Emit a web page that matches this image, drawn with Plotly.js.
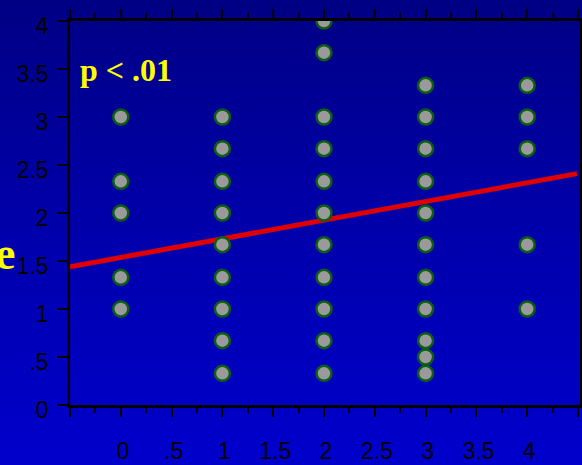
<!DOCTYPE html>
<html>
<head>
<meta charset="utf-8">
<script src="https://cdn.plot.ly/plotly-3.0.1.min.js"></script>
<style>
  html, body { margin: 0; padding: 0; }
  body {
    width: 582px;
    height: 465px;
    background: linear-gradient(to bottom, #000084 0%, #0000a8 45%, #0000cc 100%);
    overflow: hidden;
  }
  #chart { width: 582px; height: 465px; }
</style>
</head>
<body>
<div id="chart"></div>
<script>
// Scatter data, one column of points per x value
const pointX = [
    0, 0, 0, 0, 0,
    1, 1, 1, 1, 1, 1, 1, 1, 1,
    2, 2, 2, 2, 2, 2, 2, 2, 2, 2, 2,
    3, 3, 3, 3, 3, 3, 3, 3, 3, 3, 3,
    4, 4, 4, 4, 4
];
const pointY = [
    3, 2.33, 2, 1.33, 1,
    3, 2.67, 2.33, 2, 1.67, 1.33, 1, 0.67, 0.33,
    4, 3.67, 3, 2.67, 2.33, 2, 1.67, 1.33, 1, 0.67, 0.33,
    3.33, 3, 2.67, 2.33, 2, 1.67, 1.33, 1, 0.67, 0.5, 0.33,
    3.33, 3, 2.67, 1.67, 1
];

// Fitted line (end points)
const lineX = [-0.5, 4.49];
const lineY = [1.44, 2.41];

// Tick labels
const xTickVals = [-0.5, 0, 0.5, 1, 1.5, 2, 2.5, 3, 3.5, 4, 4.5];
const xTickText = ['', '0', '.5', '1', '1.5', '2', '2.5', '3', '3.5', '4', ''];
const yTickVals = [0, 0.5, 1, 1.5, 2, 2.5, 3, 3.5, 4];
const yTickText = ['0', '.5', '1', '1.5', '2', '2.5', '3', '3.5', '4'];

const pLabel = 'p < .01';
const sideLabel = 'e';

const chart = document.getElementById('chart');

const data = [
    {
        x: lineX,
        y: lineY,
        type: 'scatter',
        mode: 'lines',
        line: { color: '#e00000', width: 5 },
        hoverinfo: 'skip',
    },
    {
        x: pointX,
        y: pointY,
        type: 'scatter',
        mode: 'markers',
        marker: {
            size: 15,
            color: '#9a9a9a',
            line: { color: '#0b5e12', width: 2.5 },
        },
    },
];

const tickFont = { family: 'Liberation Sans, Arial, sans-serif', size: 23, color: '#000000' };

const layout = {
    width: 582,
    height: 465,
    margin: { l: 70, r: 2, t: 21, b: 60 },
    paper_bgcolor: 'rgba(0,0,0,0)',
    plot_bgcolor: 'rgba(0,0,0,0)',
    showlegend: false,
    xaxis: {
        range: [-0.5, 4.52],
        tickmode: 'array',
        tickvals: xTickVals,
        ticktext: xTickText,
        ticks: 'outside',
        ticklen: 9,
        tickwidth: 2,
        tickcolor: '#000000',
        ticklabelstandoff: 14,
        ticklabelshift: 2,
        minor: { dtick: 0.25, tick0: 0, ticks: 'outside', ticklen: 5, tickwidth: 2, tickcolor: '#000000' },
        showline: true,
        linecolor: '#000000',
        linewidth: 3,
        mirror: 'ticks',
        showgrid: false,
        zeroline: false,
        tickfont: tickFont,
    },
    yaxis: {
        range: [0, 4],
        tickmode: 'array',
        tickvals: yTickVals,
        ticktext: yTickText,
        ticks: 'outside',
        ticklen: 10,
        tickwidth: 2,
        tickcolor: '#000000',
        ticklabelstandoff: 4,
        ticklabelshift: 5,
        showline: true,
        linecolor: '#000000',
        linewidth: 3,
        mirror: true,
        showgrid: false,
        zeroline: false,
        tickfont: tickFont,
    },
    annotations: [
        {
            text: '<b>' + pLabel + '</b>',
            x: -0.42,
            y: 3.49,
            xref: 'x',
            yref: 'y',
            xanchor: 'left',
            yanchor: 'middle',
            showarrow: false,
            font: { family: 'Liberation Serif, Times New Roman, serif', size: 32, color: '#ffff00' },
        },
        {
            text: '<b>' + sideLabel + '</b>',
            x: (17 - 70) / 510,
            y: 1.58,
            xref: 'paper',
            yref: 'y',
            xanchor: 'right',
            yanchor: 'middle',
            showarrow: false,
            font: { family: 'Liberation Serif, Times New Roman, serif', size: 46, color: '#ffff00' },
        },
    ],
};

Plotly.newPlot(chart, data, layout, { displayModeBar: false, staticPlot: true });
</script>
</body>
</html>
